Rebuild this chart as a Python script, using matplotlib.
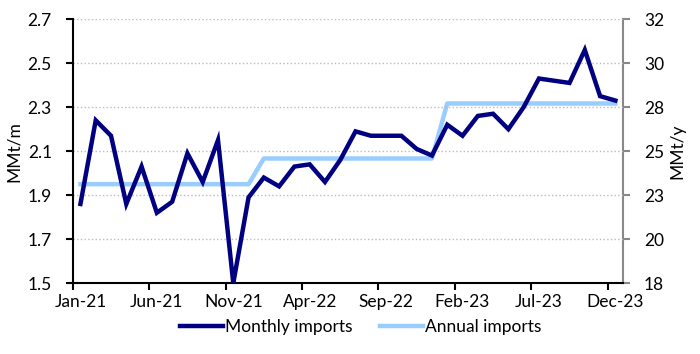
import matplotlib.pyplot as plt
import numpy as np

plt.rcParams['font.family'] = ['Lato', 'DejaVu Sans']

months = ['Jan-21', 'Feb-21', 'Mar-21', 'Apr-21', 'May-21', 'Jun-21', 'Jul-21', 'Aug-21',
          'Sep-21', 'Oct-21', 'Nov-21', 'Dec-21', 'Jan-22', 'Feb-22', 'Mar-22', 'Apr-22',
          'May-22', 'Jun-22', 'Jul-22', 'Aug-22', 'Sep-22', 'Oct-22', 'Nov-22', 'Dec-22',
          'Jan-23', 'Feb-23', 'Mar-23', 'Apr-23', 'May-23', 'Jun-23', 'Jul-23', 'Aug-23',
          'Sep-23', 'Oct-23', 'Nov-23', 'Dec-23']

monthly = [1.86, 2.24, 2.17, 1.86, 2.03, 1.82, 1.87, 2.09, 1.96, 2.15, 1.50, 1.89,
           1.98, 1.94, 2.03, 2.04, 1.96, 2.06, 2.19, 2.17, 2.17, 2.17, 2.11, 2.08,
           2.22, 2.17, 2.26, 2.27, 2.20, 2.30, 2.43, 2.42, 2.41, 2.56, 2.35, 2.33]

# annual imports (MMt/y) for 2021, 2022, 2023
annual_by_year = [23.4, 24.8, 27.8]
annual = np.repeat(annual_by_year, 12)

fig = plt.figure(figsize=(7, 3.54), dpi=100)
ax = fig.add_axes([0.104, 0.2, 0.786, 0.746])
ax2 = ax.twinx()

x = np.arange(len(months))
l1, = ax.plot(x, monthly, color='#000080', lw=3.2, solid_joinstyle='miter', zorder=3,
              label='Monthly imports')
l2, = ax2.plot(x, annual, color='#99CCFF', lw=3.2, zorder=2, label='Annual imports')
ax.set_zorder(ax2.get_zorder() + 1)
ax.patch.set_visible(False)

ax.set_xlim(-0.5, len(months) - 0.5)
ax.set_ylim(1.5, 2.7)
ax.set_yticks(np.arange(1.5, 2.71, 0.2))
ax.set_yticklabels(['%.1f' % v for v in np.arange(1.5, 2.71, 0.2)])
ax2.set_ylim(18, 32.4)
ax2.set_yticks(np.linspace(18, 32.4, 7))
ax2.set_yticklabels(['%.0f' % v for v in np.linspace(18, 32.4, 7)])

ax.set_xticks(np.arange(-0.5, len(months) - 1, 5))
ax.set_xticklabels([])
ax.set_xticks(x[::5], minor=True)
ax.set_xticklabels(months[::5], minor=True)
ax.tick_params(axis='x', which='minor', length=0, labelsize=12.5, pad=8)
ax.tick_params(axis='x', which='major', length=5, width=1.5, color='black')
ax.tick_params(axis='y', labelsize=12.5, length=5, width=1.5, color='black', pad=10)
ax2.tick_params(axis='y', labelsize=12.5, length=5, width=1.5, color='#888888', pad=10)

ax.grid(axis='y', color='#BBBBBB', linestyle=':', lw=1)
ax.set_axisbelow(True)

for a in (ax, ax2):
    a.spines['top'].set_visible(False)
ax.spines['left'].set_linewidth(1.5)
ax.spines['bottom'].set_linewidth(1.5)
ax.spines['right'].set_visible(False)
ax2.spines['left'].set_visible(False)
ax2.spines['bottom'].set_visible(False)
ax2.spines['right'].set_color('#888888')
ax2.spines['right'].set_linewidth(1.5)

ax.set_ylabel('MMt/m', fontsize=12.5, labelpad=4)
ax2.set_ylabel('MMt/y', fontsize=12.5, labelpad=4)

fig.legend([l1, l2], ['Monthly imports', 'Annual imports'], loc='center',
           bbox_to_anchor=(0.515, 0.075), ncol=2, frameon=False, fontsize=12.5,
           handlelength=2.5, handletextpad=0.1, columnspacing=1.6)

fig.savefig('out.png', dpi=100)
